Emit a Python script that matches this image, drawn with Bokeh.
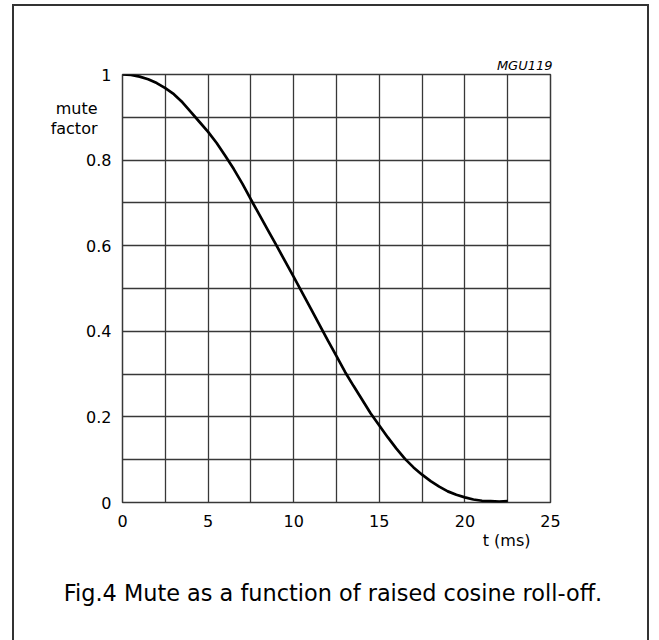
from bokeh.plotting import figure
from bokeh.models import Range1d, FixedTicker, Title, LinearAxis
from bokeh.embed import file_html
from bokeh.resources import INLINE

# data
t_ms = [0, 0.5, 1, 1.5, 2, 2.5, 3, 3.5, 4, 4.5, 5, 5.5, 6, 6.5, 7, 7.5, 8, 8.5,
        9, 10, 11, 12, 12.5, 13, 13.5, 14, 14.5, 15, 15.5, 16, 16.5, 17, 17.5,
        18, 18.5, 19, 19.5, 20, 20.5, 21, 21.5, 22, 22.5]
mute = [1.0, 0.999, 0.995, 0.989, 0.98, 0.968, 0.954, 0.935, 0.912, 0.889,
        0.866, 0.84, 0.81, 0.779, 0.745, 0.708, 0.672, 0.636, 0.6, 0.527, 0.453,
        0.378, 0.342, 0.305, 0.272, 0.24, 0.208, 0.18, 0.152, 0.126, 0.102,
        0.082, 0.065, 0.05, 0.037, 0.026, 0.018, 0.012, 0.007, 0.004, 0.003,
        0.002, 0.003]
x_ticks = [0, 5, 10, 15, 20, 25]
y_ticks = [0, 0.2, 0.4, 0.6, 0.8, 1.0]
y_tick_labels = ["0", "0.2", "0.4", "0.6", "0.8", "1"]
x_grid = [0, 2.5, 5, 7.5, 10, 12.5, 15, 17.5, 20, 22.5, 25]
y_grid = [0, 0.1, 0.2, 0.3, 0.4, 0.5, 0.6, 0.7, 0.8, 0.9, 1.0]
y_name_pos = [0.92, 0.875]
y_name = ["mute", "factor"]
x_name = "t (ms)"
code = "MGU119"
caption = "Fig.4  Mute as a function of raised cosine roll-off."

FONT = "DejaVu Sans"
GRID = "#383838"

p = figure(width=637, height=646, output_backend="svg", toolbar_location=None,
           x_range=Range1d(0, 25), y_range=Range1d(0, 1),
           styles={"border": "2px solid #333333", "margin-left": "12px",
                   "margin-top": "4px"})
p.min_border_left = 108
p.min_border_right = 101
p.min_border_top = 68
p.min_border_bottom = 150
p.background_fill_color = "white"
p.border_fill_color = "white"
p.outline_line_color = GRID
p.outline_line_width = 1.5

p.xgrid.ticker = FixedTicker(ticks=x_grid)
p.ygrid.ticker = FixedTicker(ticks=y_grid)
for g in (p.xgrid, p.ygrid):
    g.grid_line_color = GRID
    g.grid_line_width = 1.3

def style_axis(ax):
    ax.axis_line_color = None
    ax.major_tick_line_color = None
    ax.minor_tick_line_color = None
    ax.major_tick_out = 0
    ax.major_tick_in = 0
    ax.major_label_text_font = FONT
    ax.major_label_text_font_size = "16px"
    ax.major_label_text_color = "black"

style_axis(p.xaxis[0])
style_axis(p.yaxis[0])
p.xaxis.ticker = FixedTicker(ticks=x_ticks)
p.xaxis.major_label_standoff = 12
p.yaxis.ticker = FixedTicker(ticks=y_ticks)
p.yaxis.major_label_overrides = {v: s for v, s in zip(y_ticks, y_tick_labels)}
p.yaxis.major_label_standoff = 11

name_axis = LinearAxis(ticker=FixedTicker(ticks=y_name_pos),
                       major_label_overrides={v: s for v, s in zip(y_name_pos, y_name)})
style_axis(name_axis)
name_axis.major_label_standoff = -14
p.add_layout(name_axis, "left")

p.line(t_ms, mute, line_color="black", line_width=2.7)

p.add_layout(Title(text=code, align="right", offset=-2, standoff=4,
                   text_font=FONT, text_font_size="13px",
                   text_font_style="italic", text_color="black"), "above")
p.add_layout(Title(text=x_name, align="right", offset=20, standoff=-2,
                   text_font=FONT, text_font_size="16px",
                   text_font_style="normal", text_color="black"), "below")
p.add_layout(Title(text=caption, align="center", standoff=58,
                   text_font=FONT, text_font_size="22.4px",
                   text_font_style="normal", text_color="black"), "below")

open("out.html", "w").write(file_html(p, INLINE))
